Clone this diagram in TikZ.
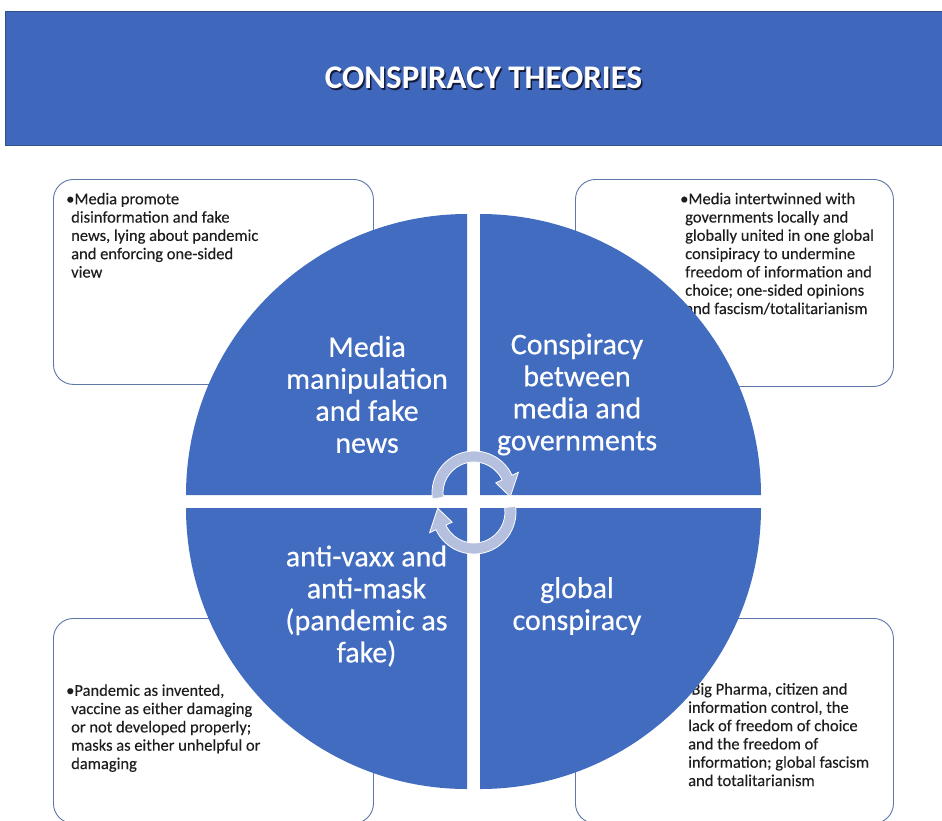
\documentclass[tikz,border=0pt]{standalone}
\usepackage{fontspec}
\setmainfont{Carlito}
\newfontfamily\heavyfont[FakeBold=0.4]{Carlito}
\newfontfamily\bodyfont[FakeBold=0.2]{Carlito}
\usetikzlibrary{calc}

\definecolor{qblue}{RGB}{66,108,192}
\definecolor{titleblue}{RGB}{63,103,188}
\definecolor{titleedge}{RGB}{47,82,143}
\definecolor{boxline}{RGB}{95,118,168}
\definecolor{arrowfill}{RGB}{180,192,222}
\definecolor{bodytext}{RGB}{30,30,30}
\definecolor{shade}{RGB}{20,28,60}

\newcommand{\hang}{\hspace*{5pt}}

\begin{document}
\begin{tikzpicture}[x=1pt,y=-1pt,
  infobox/.style={draw=boxline, line width=0.9pt, fill=white, rounded corners=20pt,
    anchor=north west, inner sep=0pt},
  % anchored at the baseline of the last line
  bodytxt/.style={anchor=base west, align=left, inner sep=0pt, text=bodytext,
    font=\bodyfont\fontsize{16.5}{18.3}\selectfont},
  quadtxt/.style={align=center, inner sep=0pt, text=white,
    font=\heavyfont\fontsize{30}{32}\selectfont},
  quad/.style={fill=qblue},
  cyclearrow/.style={fill=arrowfill, draw=white, line width=0.8pt}
]
\useasboundingbox (0,0) rectangle (942,820);

% title banner
\node[draw=titleedge, line width=0.8pt, fill=titleblue, anchor=north west,
  minimum width=945pt, minimum height=134pt, inner sep=0pt] (banner) at (5,11) {};
\node[text=shade, font=\fontsize{33}{38}\selectfont\bfseries] (titleshadow) at (485,79.5) {CONSPIRACY THEORIES};
\node[text=white, font=\fontsize{33}{38}\selectfont\bfseries] (title) at (483.5,78) {CONSPIRACY THEORIES};

% description boxes
\node[infobox, minimum width=320pt, minimum height=205pt] (boxTL) at (53,179) {};
\node[infobox, minimum width=318pt, minimum height=207pt] (boxTR) at (575,179) {};
\node[infobox, minimum width=320pt, minimum height=205pt] (boxBL) at (53,618) {};
\node[infobox, minimum width=318pt, minimum height=205pt] (boxBR) at (575,618) {};

\node[bodytxt] (txtTL) at (66,277.5) {•Media promote\\\hang disinformation and fake\\\hang news, lying about pandemic\\\hang and enforcing one-sided\\\hang view};
\node[bodytxt] (txtTR) at (680,314) {•Media intertwinned with\\\hang governments locally and\\\hang globally united in one global\\\hang consipiracy to undermine\\\hang freedom of information and\\\hang choice; one-sided opinions\\\hang and fascism/totalitarianism};
\node[bodytxt] (txtBL) at (66,769) {•Pandemic as invented,\\\hang vaccine as either damaging\\\hang or not developed properly;\\\hang masks as either unhelpful or\\\hang damaging};
\node[bodytxt] (txtBR) at (683,786) {•Big Pharma, citizen and\\\hang information control, the\\\hang lack of freedom of choice\\\hang and the freedom of\\\hang information; global fascism\\\hang and totalitarianism};

% four quarter discs
\fill[quad] (467,495) -- ++(-281,0) arc[start angle=180, end angle=270, radius=281] -- cycle;
\fill[quad] (480,495) -- ++(0,-281) arc[start angle=270, end angle=360, radius=281] -- cycle;
\fill[quad] (467,508) -- ++(0,281) arc[start angle=90, end angle=180, radius=281] -- cycle;
\fill[quad] (480,508) -- ++(281,0) arc[start angle=0, end angle=90, radius=281] -- cycle;

\node[quadtxt] (qTL) at (367,394.5) {Media\\manipulation\\and fake\\news};
\node[quadtxt] (qTR) at (577,394.5) {Conspiracy\\between\\media and\\governments};
\node[quadtxt] (qBL) at (366.5,606) {anti-vaxx and\\anti-mask\\(pandemic as\\fake)};
\node[quadtxt] (qBR) at (577,606) {global\\conspiracy};

% circular arrows in the middle
\coordinate (ca) at (474,493);
\coordinate (cb) at (474,512);
\filldraw[cyclearrow] ($(ca)+(172:42)$) arc[start angle=172, end angle=335, radius=42]
  -- ($(ca)+(335:49)$) -- ($(ca)+(6:36.5)$) -- ($(ca)+(335:24)$) -- ($(ca)+(335:31)$)
  arc[start angle=335, end angle=172, radius=31] -- cycle;
\filldraw[cyclearrow] ($(cb)+(-8:42)$) arc[start angle=-8, end angle=155, radius=42]
  -- ($(cb)+(155:49)$) -- ($(cb)+(186:36.5)$) -- ($(cb)+(155:24)$) -- ($(cb)+(155:31)$)
  arc[start angle=155, end angle=-8, radius=31] -- cycle;
\end{tikzpicture}
\end{document}
